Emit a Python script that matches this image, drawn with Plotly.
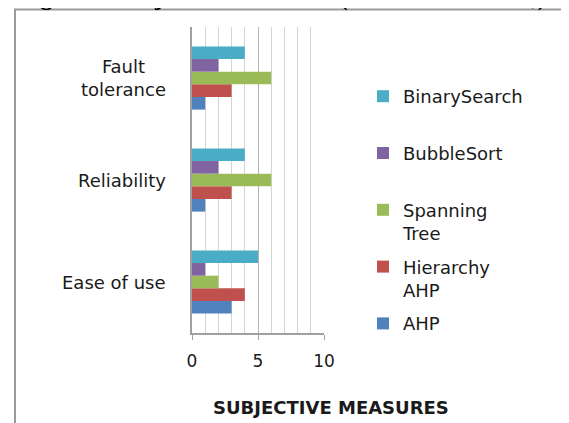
import plotly.graph_objects as go

# ---- data ----
categories = ["Ease of use", "Reliability", "Fault tolerance"]
category_labels = ["Ease of use", "Reliability", "Fault<br>tolerance"]
series_names = ["AHP", "Hierarchy AHP", "Spanning Tree", "BubbleSort", "BinarySearch"]
legend_labels = ["AHP", "Hierarchy<br>AHP", "Spanning<br>Tree", "BubbleSort<br> ", "BinarySearch<br> "]
legend_ranks = [5, 4, 3, 2, 1]
ahp = [3, 1, 1]
hierarchy_ahp = [4, 3, 3]
spanning_tree = [2, 6, 6]
bubble_sort = [1, 2, 2]
binary_search = [5, 4, 4]
series_values = [ahp, hierarchy_ahp, spanning_tree, bubble_sort, binary_search]
colors = ["#4F81BD", "#C0504D", "#9BBB59", "#8064A2", "#4BACC6"]
x_ticks = [0, 5, 10]
title_text = "Figure 2: Objective Measures (Harrison L. et al.,)"
axis_title = "SUBJECTIVE MEASURES"

W, H = 569, 423
OFF = 8  # page body margin offset
L, R, T, B = 192 - OFF, 324 - OFF, 27 - OFF, 333 - OFF  # plot area, figure pixels


def px_x(p):
    # p: screen pixel -> paper coordinate
    return (p - OFF - L) / (R - L)


def px_y(p):
    return 1 - (p - OFF - T) / (B - T)


FONT = "DejaVu Sans"
TXT = "#1a1a1a"
FRAME = "#9a9a9a"

fig = go.Figure()
for name, lab, vals, col, rk in zip(series_names, legend_labels, series_values, colors, legend_ranks):
    fig.add_trace(go.Bar(
        y=categories, x=vals, orientation="h", name=lab,
        marker=dict(color=col, line=dict(width=0)),
        legendgroup=name, legendrank=rk,
    ))

annotations = []
for cat, lab in zip(categories, category_labels):
    annotations.append(dict(
        x=px_x(168), xref="paper", y=cat, yref="y", text=lab, showarrow=False,
        xanchor="right", yanchor="middle", align="center",
        font=dict(family=FONT, size=18, color=TXT),
    ))
annotations.append(dict(
    x=px_x(331), xref="paper", y=px_y(407), yref="paper", text="<b>%s</b>" % axis_title,
    showarrow=False, xanchor="center", yanchor="middle",
    font=dict(family=FONT, size=18, color=TXT),
))
annotations.append(dict(
    x=px_x(16), xref="paper", y=px_y(-3), yref="paper", text="<b>%s</b>" % title_text,
    showarrow=False, xanchor="left", yanchor="middle",
    font=dict(family="Liberation Serif", size=25, color="#000"),
))

fig.update_layout(
    width=W, height=H,
    margin=dict(l=L, r=W - R, t=T, b=H - B, pad=0),
    paper_bgcolor="white", plot_bgcolor="white",
    barmode="group", bargap=0.38, bargroupgap=0,
    showlegend=True,
    legend=dict(
        x=px_x(363), xanchor="left", y=px_y(78), yanchor="top",
        traceorder="grouped", tracegroupgap=7, valign="top",
        font=dict(family=FONT, size=18, color=TXT),
        bgcolor="rgba(0,0,0,0)",
    ),
    xaxis=dict(
        range=[0, 10], tickvals=x_ticks, ticks="outside", ticklen=5, tickcolor="#a0a0a0",
        showgrid=True, gridcolor="#b4b4b4", gridwidth=1,
        minor=dict(dtick=1, showgrid=True, gridcolor="#d4d4d4", gridwidth=1),
        showline=True, linecolor="#a0a0a0", linewidth=1.5,
        tickfont=dict(family=FONT, size=17, color=TXT), ticklabelstandoff=7,
        zeroline=False,
    ),
    yaxis=dict(
        categoryorder="array", categoryarray=categories,
        showticklabels=False, ticks="", showgrid=False,
        showline=True, linecolor="#a0a0a0", linewidth=1.5,
    ),
    annotations=annotations,
    shapes=[dict(
        type="rect", xref="paper", yref="paper",
        x0=px_x(15), x1=px_x(700), y0=px_y(9.5), y1=px_y(520),
        line=dict(color=FRAME, width=2), fillcolor="rgba(0,0,0,0)", layer="above",
    )],
)

fig.write_html("out.html")
